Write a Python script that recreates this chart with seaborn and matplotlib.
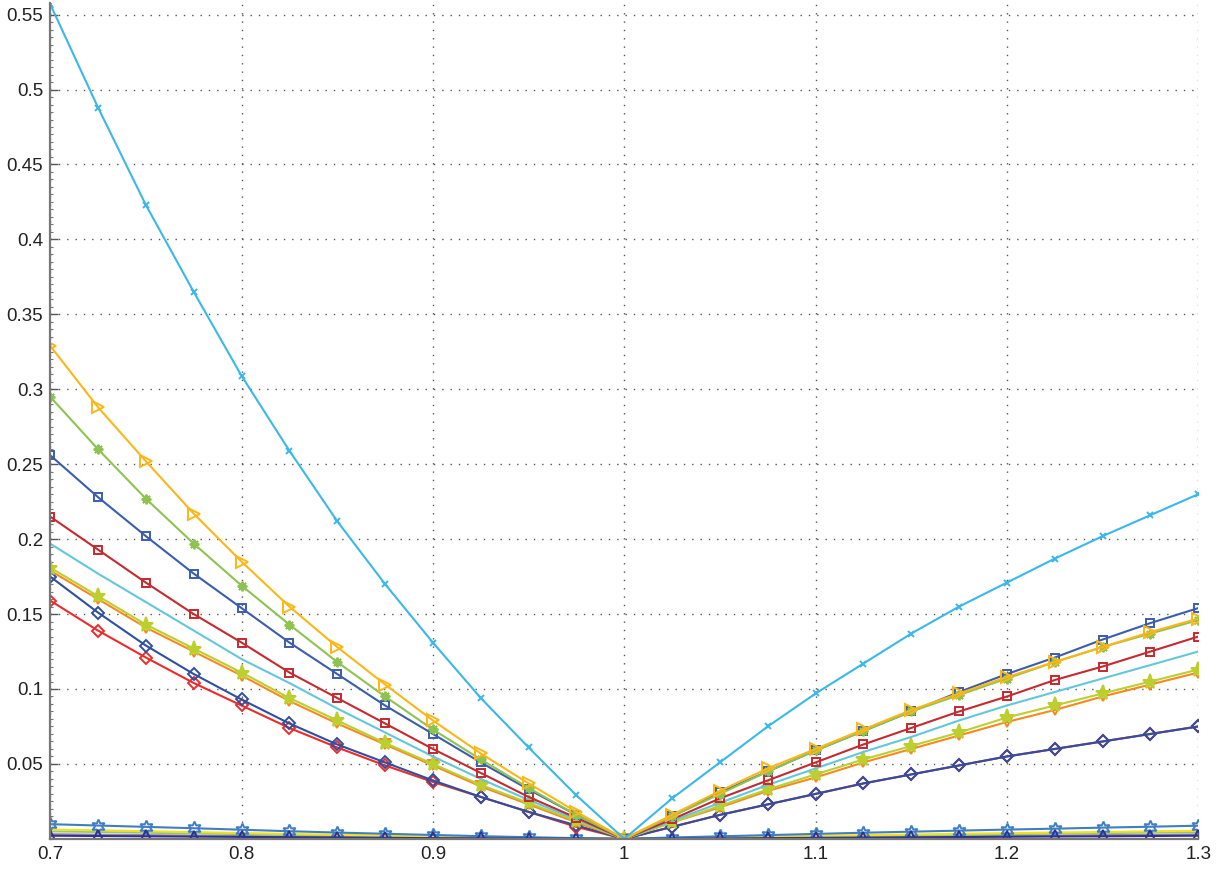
import matplotlib
matplotlib.use("Agg")
import matplotlib.pyplot as plt
import seaborn as sns
from matplotlib.ticker import FixedLocator, MultipleLocator

# ---- data ----
x_vals = [0.7, 0.725, 0.75, 0.775, 0.8, 0.825, 0.85, 0.875, 0.9, 0.925, 0.95, 0.975,
          1.0, 1.025, 1.05, 1.075, 1.1, 1.125, 1.15, 1.175, 1.2, 1.225, 1.25, 1.275, 1.3]

light_blue_x = [0.557, 0.488, 0.423, 0.365, 0.309, 0.259, 0.212, 0.170, 0.131, 0.094, 0.061, 0.029,
                0.0, 0.027, 0.051, 0.075, 0.097, 0.117, 0.137, 0.155, 0.171, 0.187, 0.202, 0.216, 0.230]
orange_right = [0.329, 0.288, 0.252, 0.217, 0.185, 0.155, 0.128, 0.103, 0.079, 0.057, 0.037, 0.018,
                0.0, 0.016, 0.032, 0.047, 0.060, 0.073, 0.086, 0.097, 0.108, 0.118, 0.128, 0.138, 0.147]
green_asterisk = [0.295, 0.260, 0.227, 0.197, 0.169, 0.143, 0.118, 0.095, 0.073, 0.053, 0.034, 0.016,
                  0.0, 0.015, 0.030, 0.045, 0.059, 0.072, 0.085, 0.096, 0.107, 0.118, 0.128, 0.137, 0.146]
blue_square = [0.256, 0.228, 0.202, 0.177, 0.154, 0.131, 0.110, 0.089, 0.070, 0.051, 0.033, 0.016,
               0.0, 0.015, 0.031, 0.045, 0.059, 0.072, 0.085, 0.098, 0.110, 0.121, 0.133, 0.144, 0.154]
red_square = [0.215, 0.193, 0.171, 0.150, 0.131, 0.111, 0.094, 0.077, 0.060, 0.044, 0.028, 0.014,
              0.0, 0.013, 0.027, 0.039, 0.051, 0.063, 0.074, 0.085, 0.095, 0.106, 0.115, 0.125, 0.135]
cyan_plain = [0.197, 0.177, 0.158, 0.139, 0.120, 0.104, 0.087, 0.071, 0.055, 0.040, 0.026, 0.013,
              0.0, 0.012, 0.024, 0.036, 0.047, 0.058, 0.068, 0.079, 0.089, 0.098, 0.107, 0.116, 0.125]
lime_star = [0.181, 0.162, 0.143, 0.127, 0.111, 0.094, 0.079, 0.064, 0.050, 0.036, 0.024, 0.012,
             0.0, 0.011, 0.022, 0.033, 0.043, 0.053, 0.062, 0.071, 0.081, 0.089, 0.097, 0.105, 0.113]
orange_down = [0.179, 0.160, 0.141, 0.125, 0.109, 0.092, 0.077, 0.063, 0.049, 0.035, 0.023, 0.011,
               0.0, 0.011, 0.021, 0.032, 0.041, 0.051, 0.060, 0.069, 0.078, 0.086, 0.095, 0.103, 0.111]
blue_diamond = [0.175, 0.151, 0.129, 0.110, 0.093, 0.077, 0.063, 0.051, 0.039, 0.028, 0.018, 0.009,
                0.0, 0.008, 0.016, 0.023, 0.030, 0.037, 0.043, 0.049, 0.055, 0.060, 0.065, 0.070, 0.075]
red_diamond = [0.159, 0.139, 0.121, 0.104, 0.089, 0.074, 0.061, 0.049, 0.038, 0.028, 0.018, 0.008,
               0.0, 0.008, 0.016, 0.023, 0.030, 0.037, 0.043, 0.049, 0.055, 0.060, 0.065, 0.070, 0.075]

# the flat group along the bottom
yellow_low = [0.0062, 0.0057, 0.0051, 0.0045, 0.0039, 0.0033, 0.0027, 0.0022, 0.0017, 0.0012, 0.0007, 0.0003,
              0.0, 0.0005, 0.0010, 0.0015, 0.0020, 0.0025, 0.0029, 0.0034, 0.0038, 0.0042, 0.0046, 0.0050, 0.0054]
green_low = [0.0050, 0.0046, 0.0041, 0.0036, 0.0032, 0.0027, 0.0022, 0.0018, 0.0014, 0.0010, 0.0006, 0.0003,
             0.0, 0.0004, 0.0008, 0.0012, 0.0016, 0.0020, 0.0024, 0.0028, 0.0031, 0.0035, 0.0038, 0.0042, 0.0045]
mauve_low = [0.0031, 0.0028, 0.0025, 0.0022, 0.0019, 0.0016, 0.0013, 0.0011, 0.0008, 0.0006, 0.0004, 0.0002,
             0.0, 0.0002, 0.0005, 0.0007, 0.0010, 0.0012, 0.0015, 0.0017, 0.0020, 0.0022, 0.0025, 0.0027, 0.0030]
blue_hexagram = [0.0098, 0.0089, 0.0080, 0.0071, 0.0061, 0.0051, 0.0042, 0.0034, 0.0026, 0.0018, 0.0011, 0.0005,
                 0.0, 0.0009, 0.0017, 0.0025, 0.0033, 0.0041, 0.0048, 0.0055, 0.0062, 0.0068, 0.0075, 0.0081, 0.0088]
navy_triangle = [0.0021, 0.0019, 0.0017, 0.0015, 0.0013, 0.0011, 0.0009, 0.0007, 0.0005, 0.0004, 0.0002, 0.0001,
                 0.0, 0.0001, 0.0003, 0.0005, 0.0007, 0.0008, 0.0010, 0.0012, 0.0014, 0.0016, 0.0017, 0.0019, 0.0021]

y_ticks = [0.05, 0.1, 0.15, 0.2, 0.25, 0.3, 0.35, 0.4, 0.45, 0.5, 0.55]
y_labels = ["0.05", "0.1", "0.15", "0.2", "0.25", "0.3", "0.35", "0.4", "0.45", "0.5", "0.55"]
x_ticks = [0.7, 0.8, 0.9, 1.0, 1.1, 1.2, 1.3]
x_labels = ["0.7", "0.8", "0.9", "1", "1.1", "1.2", "1.3"]

# ---- styling ----
sns.set_theme(style="white")
plt.rcParams["font.family"] = ["Liberation Sans", "DejaVu Sans"]

asterisk = (8, 2, 0)
hexagram = (6, 1, 0)

# (values, colour, marker, markersize, filled)
series = [
    (mauve_low, "#a681a6", None, 0, False),
    (green_low, "#8dcb78", None, 0, False),
    (yellow_low, "#f2e21c", None, 0, False),
    (blue_hexagram, "#3f7ec4", hexagram, 10, False),
    (navy_triangle, "#2e3192", "^", 8, False),
    (red_diamond, "#ee2b2b", "D", 6, False),
    (blue_diamond, "#2f4fa0", "D", 6, False),
    (orange_down, "#f6891f", "v", 7, False),
    (lime_star, "#bccf2f", "*", 11, True),
    (cyan_plain, "#63c7db", None, 0, False),
    (red_square, "#c42a2f", "s", 6, False),
    (blue_square, "#3b5dab", "s", 6, False),
    (green_asterisk, "#8dc451", asterisk, 7, False),
    (orange_right, "#fbb618", ">", 8, False),
    (light_blue_x, "#3bb7eb", "x", 5, False),
]

fig, ax = plt.subplots(figsize=(12.24, 8.72), dpi=100)
fig.subplots_adjust(left=0.041, right=0.979, bottom=0.038, top=0.997)

for vals, col, mk, ms, filled in series:
    kw = dict(color=col, linewidth=1.5)
    if mk is not None:
        kw.update(marker=mk, markersize=ms, markeredgecolor=col,
                  markerfacecolor=col if filled else "none", markeredgewidth=1.4)
    sns.lineplot(x=x_vals, y=vals, ax=ax, errorbar=None, **kw)

ax.set_xlim(0.7, 1.3)
ax.set_ylim(0, 0.558)

ax.xaxis.set_major_locator(FixedLocator(x_ticks))
ax.set_xticklabels(x_labels)
ax.yaxis.set_major_locator(FixedLocator(y_ticks))
ax.set_yticklabels(y_labels)
ax.yaxis.set_minor_locator(MultipleLocator(0.005))

ax.tick_params(axis="both", which="major", direction="in", length=6, width=1,
               color="#555555", labelsize=13.5, labelcolor="#222222", pad=5)
ax.tick_params(axis="y", which="minor", direction="in", length=2.5, width=0.8,
               color="#777777", left=True)
ax.tick_params(axis="x", which="major", bottom=True)
ax.tick_params(axis="y", which="major", left=True)

ax.grid(True, which="major", linestyle=(0, (1, 5)), linewidth=1, color="#555555")

for side in ["top", "right"]:
    ax.spines[side].set_visible(False)
for side in ["left", "bottom"]:
    ax.spines[side].set_color("#777777")
    ax.spines[side].set_linewidth(1.6)

plt.savefig("out.png", dpi=100)
plt.close()
